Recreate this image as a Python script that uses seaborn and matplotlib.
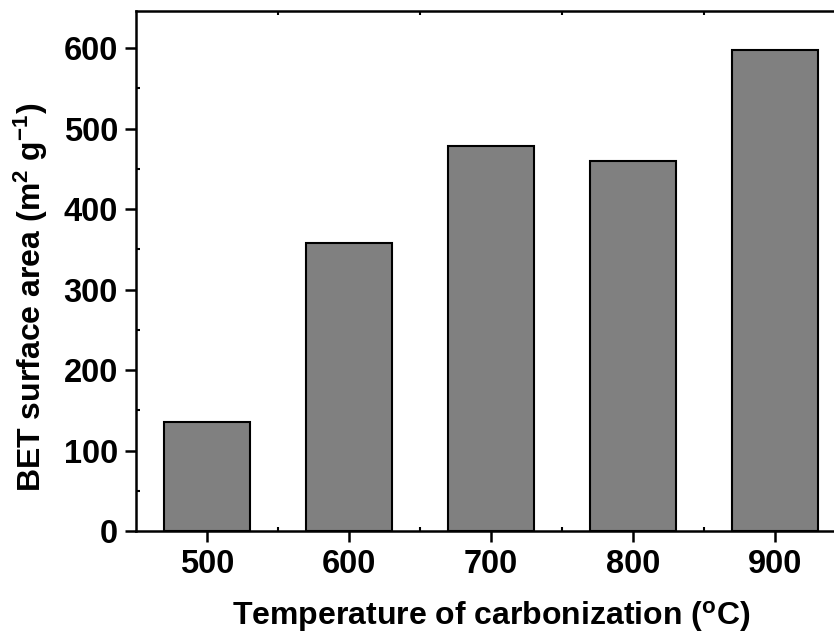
import matplotlib
matplotlib.use("Agg")
import matplotlib.pyplot as plt
import seaborn as sns
import pandas as pd
from matplotlib.ticker import MultipleLocator, FixedLocator

temps = ["500", "600", "700", "800", "900"]
bet = [135, 358, 478, 460, 598]

sns.set_style("ticks")
plt.rcParams['font.family'] = ['Liberation Sans', 'DejaVu Sans']
plt.rcParams['font.weight'] = 'bold'
plt.rcParams['text.color'] = 'black'
plt.rcParams['axes.labelcolor'] = 'black'
plt.rcParams['xtick.color'] = 'black'
plt.rcParams['ytick.color'] = 'black'
plt.rcParams['mathtext.fontset'] = 'custom'
plt.rcParams['mathtext.rm'] = 'Liberation Sans:bold'
plt.rcParams['mathtext.bf'] = 'Liberation Sans:bold'
plt.rcParams['mathtext.it'] = 'Liberation Sans:bold'
plt.rcParams['mathtext.default'] = 'bf'

df = pd.DataFrame({"temp": temps, "bet": bet})

W, H = 834, 639
fig = plt.figure(figsize=(W/100, H/100), dpi=100)
ax = fig.add_axes([136/W, 1-531/H, (846-136)/W, (531-11)/H])

sns.barplot(data=df, x="temp", y="bet", color="#808080", saturation=1,
            edgecolor="black", linewidth=1.5, width=0.6, ax=ax)

ax.set_xlim(-0.5, 4.5)
ax.set_ylim(0, 646)
ax.yaxis.set_major_locator(MultipleLocator(100))
ax.yaxis.set_minor_locator(MultipleLocator(50))
ax.xaxis.set_minor_locator(FixedLocator([0.5, 1.5, 2.5, 3.5]))

for s in ax.spines.values():
    s.set_visible(True)
    s.set_linewidth(1.8)
    s.set_color("black")

ax.tick_params(axis='both', which='major', direction='out', length=8, width=1.8,
               labelsize=23.5, pad=5, colors='black')
ax.tick_params(axis='both', which='minor', direction='in', length=3, width=1.5)
ax.tick_params(axis='x', which='minor', top=True)
for lab in ax.get_xticklabels() + ax.get_yticklabels():
    lab.set_fontweight('bold')
    lab.set_color('black')

ax.set_xlabel(r"Temperature of carbonization ($^{\mathbf{o}}$C)", fontsize=23,
              fontweight='bold', labelpad=14, color='black')
ax.set_ylabel(r"BET surface area (m$^{\mathbf{2}}$ g$^{\mathbf{-1}}$)", fontsize=23,
              fontweight='bold', color='black')
ax.yaxis.set_label_coords(-0.121, 0.45)

fig.savefig("out.png", dpi=100)
